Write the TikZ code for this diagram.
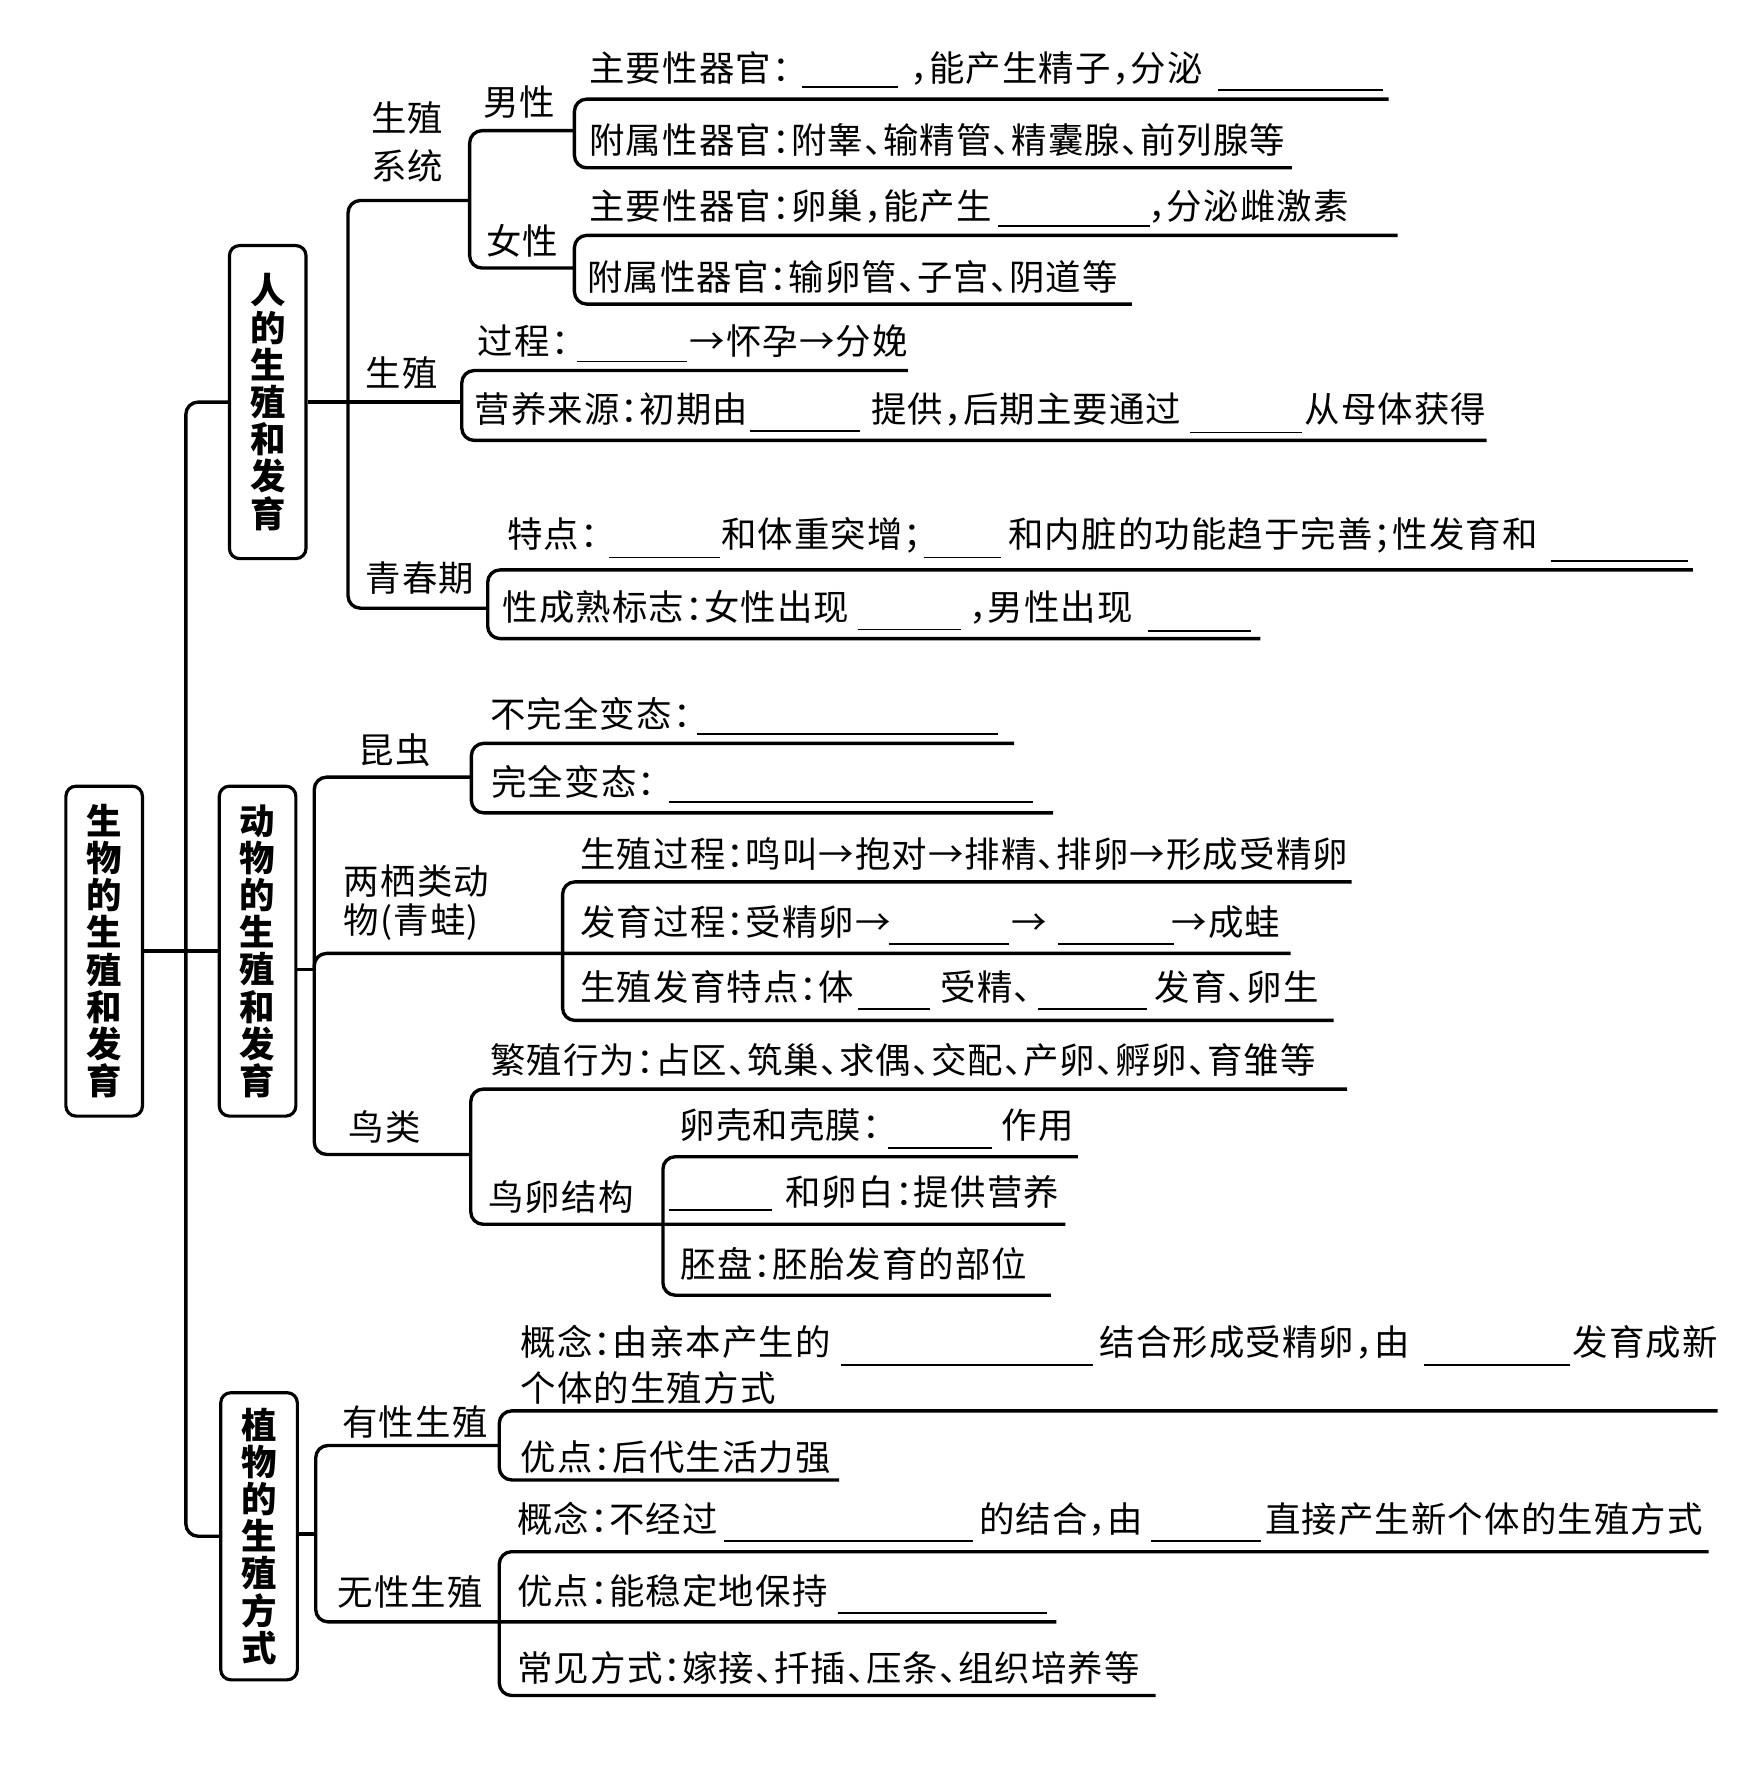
\documentclass[tikz,border=0pt]{standalone}
\usepackage{fontspec}
\newfontfamily\cjk[RawFeature={+halt},LetterSpace=3.2]{Noto Sans CJK SC}
\newfontfamily\cjkt{Noto Sans CJK SC}
\newcommand\seg[4]{\node[txt] (#1) at (#2,#3) {#4};}
\newcommand\lbl[4]{\node[lbltxt] (#1) at (#2,#3) {#4};}
\newcommand\brk[6]{%
  \coordinate (#1t) at (#4,#3);
  \coordinate (#1b) at (#6,#5);
  \coordinate (#1x) at (#2,0);
  \draw[conn] (#1t) -- (#1t -| #1x) -- (#1b -| #1x) -- (#1b);}
\begin{document}
\begin{tikzpicture}[x=0.02cm,y=-0.02cm,
  conn/.style={line width=1.7pt, rounded corners=0.22cm},
  blank/.style={line width=0.9pt},
  txt/.style={font=\cjk\fontsize{17.9}{21}\selectfont, inner sep=0pt, anchor=base west},
  lbltxt/.style={font=\cjk\fontsize{17.9}{21}\selectfont, inner sep=0pt, anchor=base},
  tbox/.style={draw, line width=1.6pt, rounded corners=0.18cm, minimum width=1.36cm,
    align=center, inner sep=0pt, font=\cjkt\bfseries\fontsize{17.9}{18.8}\selectfont}]
\fill[white] (0,0) rectangle (1549,1568);
\useasboundingbox (0,0) rectangle (1549,1568);

% title boxes
\node[tbox, minimum height=5.86cm] (root) at (92.5,844.5) {生\\物\\的\\生\\殖\\和\\发\\育};
\node[tbox, minimum height=5.56cm] (A) at (237.7,357) {人\\的\\生\\殖\\和\\发\\育};
\node[tbox, minimum height=5.86cm] (B) at (228.7,844.5) {动\\物\\的\\生\\殖\\和\\发\\育};
\node[tbox, minimum height=5.10cm] (C) at (230,1364) {植\\物\\的\\生\\殖\\方\\式};

% trunk
\coordinate (tx) at (165,0);
\draw[conn] (A.west) -- (A.west -| tx) -- (C.west -| tx) -- (C.west);
\draw[conn] (root.east) -- (B.west);

% human branch
\brk{atree}{309}{178}{417}{540}{433}
\brk{rep}{410}{329}{806}{391}{1320}
\draw[conn] (A.east) -- (A.east -| repx);
\brk{sys}{417}{116}{510}{238}{510}
\brk{male}{510}{88}{1233}{149}{1147}
\brk{fem}{510}{209}{1241}{270}{1005}
\brk{pub}{433}{506}{1503}{567}{1119}

% animal branch
\brk{btree}{279}{690}{418.5}{1025}{418}
\coordinate (bj) at (279,861);
\draw[conn] (B.east |- bj) -- (bj);
\brk{ins}{418.5}{660}{900.5}{721.7}{935}
\brk{amp}{499.5}{783}{1200}{906}{1184}
\coordinate (ampm) at (1146,846.5);
\coordinate (ampv) at (279,860);
\draw[conn] (ampv) -- (ampv |- ampm) -- (ampm);
\brk{bird}{418}{967}{1196}{1087}{946}
\brk{egg}{588.6}{1027}{957}{1150}{933}

% plant branch
\brk{ctree}{280.3}{1283.4}{443.3}{1440}{938}
\coordinate (cj) at (280.3,1362);
\draw[conn] (C.east |- cj) -- (cj);
\brk{sex}{443.3}{1252.7}{1525}{1314}{745}
\brk{asex}{443.3}{1377.7}{1517}{1505.4}{1026}

% branch labels
\lbl{sys1}{361.6}{117}{生殖}
\lbl{sys2}{361.6}{159}{系统}
\lbl{male}{461}{102.6}{男性}
\lbl{female}{463.6}{226}{女性}
\lbl{repl}{356.7}{343}{生殖}
\lbl{publ}{373}{525.6}{青春期}
\lbl{insl}{350.5}{678}{昆虫}
\seg{amp1}{305}{794}{两栖类动}
\seg{amp2}{305}{829}{物(青蛙)}
\lbl{birdl}{341.4}{1013}{鸟类}
\lbl{eggl}{498}{1074.6}{鸟卵结构}
\lbl{sexl}{368.4}{1274.5}{有性生殖}
\lbl{asexl}{364.4}{1425.5}{无性生殖}

% texts
\seg{t1a}{523}{72.5}{主要性器官：}
\draw[blank] (712,77) -- (797,77);
\seg{t1b}{808}{72.5}{，能产生精子，分泌}
\draw[blank] (1081,80) -- (1228,80);
\seg{t2}{523}{136}{附属性器官：附睾、输精管、精囊腺、前列腺等}
\seg{t3a}{523}{195.3}{主要性器官：卵巢，能产生}
\draw[blank] (886,201) -- (1021,201);
\seg{t3b}{1019}{195.3}{，分泌雌激素}
\seg{t4}{521}{257.7}{附属性器官：输卵管、子宫、阴道等}
\seg{t5a}{424}{315}{过程：}
\draw[blank] (512,321) -- (610,321);
\seg{t5b}{612}{315}{→怀孕→分娩}
\seg{t6a}{421}{375}{营养来源：初期由}
\draw[blank] (666,383) -- (764,383);
\seg{t6b}{773}{375}{提供，后期主要通过}
\draw[blank] (1057,384) -- (1156,384);
\seg{t6c}{1158}{375}{从母体获得}
\seg{t7a}{450}{486.5}{特点：}
\draw[blank] (541,495) -- (639,495);
\seg{t7b}{640}{486.5}{和体重突增；}
\draw[blank] (820,495) -- (889,495);
\seg{t7c}{895}{486.5}{和内脏的功能趋于完善；性发育和}
\draw[blank] (1377,498) -- (1499,498);
\seg{t8a}{446}{551}{性成熟标志：女性出现}
\draw[blank] (762,559) -- (853,559);
\seg{t8b}{860}{551}{，男性出现}
\draw[blank] (1019,560) -- (1111,560);
\seg{t9}{435}{645.5}{不完全变态：}
\draw[blank] (619,652) -- (886,652);
\seg{t10}{436}{706}{完全变态：}
\draw[blank] (594,712) -- (917,712);
\seg{t11}{515}{770}{生殖过程：鸣叫→抱对→排精、排卵→形成受精卵}
\seg{t12a}{515}{831}{发育过程：受精卵→}
\draw[blank] (789,838) -- (896,838);
\seg{t12b}{898}{831}{→}
\draw[blank] (939,838) -- (1042,838);
\seg{t12c}{1040}{831}{→成蛙}
\seg{t13a}{515}{888}{生殖发育特点：体}
\draw[blank] (762,896) -- (826,896);
\seg{t13b}{835}{888}{受精、}
\draw[blank] (922,896) -- (1018,896);
\seg{t13c}{1025}{888}{发育、卵生}
\seg{t14}{435}{953.5}{繁殖行为：占区、筑巢、求偶、交配、产卵、孵卵、育雏等}
\seg{t15a}{603}{1011}{卵壳和壳膜：}
\draw[blank] (788,1019) -- (881,1019);
\seg{t15b}{889}{1011}{作用}
\draw[blank] (594,1074) -- (685,1074);
\seg{t16}{697}{1070.5}{和卵白：提供营养}
\seg{t17}{604}{1134}{胚盘：胚胎发育的部位}
\seg{t18a}{462}{1203.5}{概念：由亲本产生的}
\draw[blank] (747,1212) -- (970,1212);
\seg{t18b}{976}{1203.5}{结合形成受精卵，由}
\draw[blank] (1264,1212) -- (1394,1212);
\seg{t18c}{1396}{1203.5}{发育成新}
\seg{t19}{462}{1244}{个体的生殖方式}
\seg{t20}{462}{1305.7}{优点：后代生活力强}
\seg{t21a}{459}{1361}{概念：不经过}
\draw[blank] (643,1368) -- (864,1368);
\seg{t21b}{869}{1361}{的结合，由}
\draw[blank] (1022,1368) -- (1120,1368);
\seg{t21c}{1123}{1361}{直接产生新个体的生殖方式}
\seg{t22}{459}{1425}{优点：能稳定地保持}
\draw[blank] (744,1432) -- (930,1432);
\seg{t23}{459}{1492.6}{常见方式：嫁接、扦插、压条、组织培养等}
\end{tikzpicture}
\end{document}
